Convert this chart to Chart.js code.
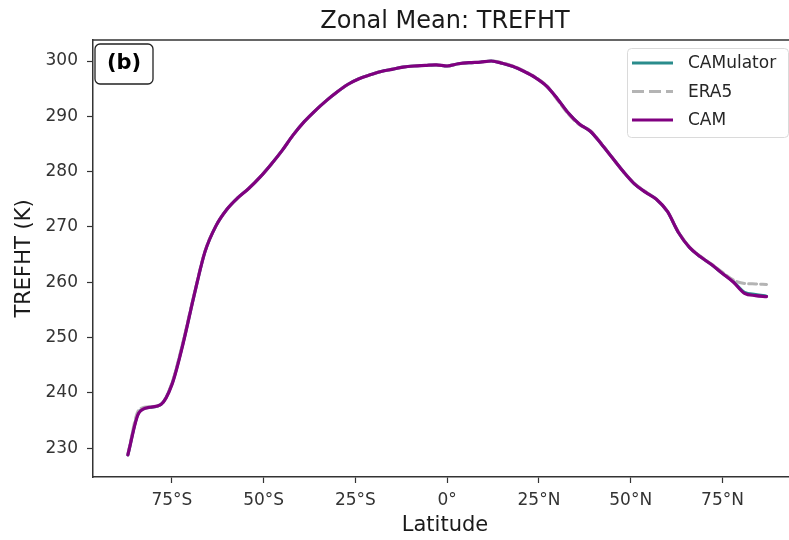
<!DOCTYPE html>
<html>
<head>
<meta charset="utf-8">
<script src="https://cdn.jsdelivr.net/npm/chart.js@4.4.0/dist/chart.umd.min.js"></script>
<style>
  html, body { margin: 0; padding: 0; background: #fff; overflow: hidden; }
  #wrap { width: 800px; height: 540px; }
</style>
</head>
<body>
<div id="wrap"><canvas id="myChart" width="800" height="540"></canvas></div>
<script>
// latitude grid (degrees, south negative)
const latitudes = [-87, -84, -81, -78, -75, -72, -69, -66, -63, -60, -57, -54, -51, -48, -45, -42, -39, -36, -33, -30,
  -27, -24, -21, -18, -15, -12, -9, -6, -3, 0, 3, 6, 9, 12, 15, 18, 21, 24, 27, 30,
  33, 36, 39, 42, 45, 48, 51, 54, 57, 60, 63, 66, 69, 72, 75, 78, 81, 84, 87];

// zonal mean 2m temperature (K)
const camValues = [228.8, 236.4, 237.4, 237.9, 241.5, 248.8, 257.5, 265.5, 270.2, 273.2, 275.3, 277.0, 279.0, 281.3, 283.8, 286.6, 289.0, 291.0, 292.8, 294.4,
  295.8, 296.8, 297.5, 298.1, 298.5, 298.9, 299.1, 299.2, 299.3, 299.1, 299.5, 299.7, 299.8, 300.0, 299.6, 299.0, 298.1, 297.0, 295.5, 293.2,
  290.6, 288.6, 287.3, 285.0, 282.5, 280.0, 277.8, 276.3, 275.0, 272.8, 269.0, 266.3, 264.6, 263.2, 261.6, 260.0, 258.0, 257.6, 257.4];
const era5Values = [229.0, 236.9, 237.5, 237.9, 241.8, 249.2, 257.7, 265.6, 270.2, 273.2, 275.3, 277.0, 279.0, 281.3, 283.8, 286.6, 289.0, 291.0, 292.8, 294.4,
  295.8, 296.8, 297.5, 298.1, 298.5, 298.9, 299.1, 299.2, 299.3, 299.1, 299.5, 299.7, 299.8, 300.0, 299.7, 299.1, 298.2, 297.1, 295.6, 293.0,
  290.4, 288.5, 287.4, 285.1, 282.5, 280.0, 277.9, 276.4, 275.0, 272.8, 269.1, 266.4, 264.7, 263.3, 261.8, 260.4, 259.8, 259.7, 259.6];
const camulatorValues = [228.8, 236.5, 237.4, 237.9, 241.6, 248.9, 257.5, 265.5, 270.2, 273.2, 275.3, 277.0, 279.0, 281.3, 283.8, 286.6, 289.0, 291.0, 292.8, 294.4,
  295.8, 296.8, 297.5, 298.1, 298.5, 298.9, 299.1, 299.2, 299.3, 299.1, 299.5, 299.7, 299.8, 300.0, 299.6, 299.0, 298.1, 297.0, 295.5, 293.2,
  290.6, 288.6, 287.3, 285.0, 282.5, 280.0, 277.8, 276.3, 275.0, 272.8, 269.0, 266.3, 264.6, 263.2, 261.6, 260.1, 258.2, 257.8, 257.5];

const xTickValues = [-75, -50, -25, 0, 25, 50, 75];
const xTickLabels = ['75°S', '50°S', '25°S', '0°', '25°N', '50°N', '75°N'];
const yTickValues = [230, 240, 250, 260, 270, 280, 290, 300];

const seriesNames = ['CAMulator', 'ERA5', 'CAM'];
const seriesColors = ['#2a8c8c', '#b4b4b4', '#800080'];

const FONT = '"DejaVu Sans", sans-serif';
const toPoints = vals => latitudes.map((lat, i) => ({ x: lat, y: vals[i] }));

// title, top spine, panel tag and legend drawn over the plot area
const extras = {
  id: 'extras',
  afterDraw(chart) {
    const { ctx, chartArea } = chart;
    ctx.save();
    // top spine
    ctx.strokeStyle = '#333';
    ctx.lineWidth = 1.5;
    ctx.beginPath();
    ctx.moveTo(chartArea.left, chartArea.top);
    ctx.lineTo(chartArea.right, chartArea.top);
    ctx.stroke();

    // title
    ctx.fillStyle = '#1a1a1a';
    ctx.font = '24px ' + FONT;
    ctx.textAlign = 'center';
    ctx.textBaseline = 'alphabetic';
    ctx.fillText('Zonal Mean: TREFHT', (chartArea.left + chartArea.right) / 2, 28);

    // (b) tag
    ctx.fillStyle = '#fff';
    ctx.strokeStyle = '#222';
    ctx.lineWidth = 1.3;
    ctx.beginPath();
    ctx.roundRect(95, 44, 58, 40, 5);
    ctx.fill();
    ctx.stroke();
    ctx.fillStyle = '#000';
    ctx.font = 'bold 21px ' + FONT;
    ctx.textBaseline = 'middle';
    ctx.fillText('(b)', 124, 64);

    // legend
    ctx.fillStyle = 'rgba(255,255,255,0.8)';
    ctx.strokeStyle = '#dadada';
    ctx.lineWidth = 1;
    ctx.beginPath();
    ctx.roundRect(627.5, 48.5, 161, 89, 4);
    ctx.fill();
    ctx.stroke();
    ctx.font = '17px ' + FONT;
    ctx.textAlign = 'left';
    seriesNames.forEach((name, i) => {
      const y = 63 + i * 28.5;
      ctx.strokeStyle = seriesColors[i];
      ctx.lineWidth = 3;
      ctx.setLineDash(name === 'ERA5' ? [12, 5] : []);
      ctx.beginPath();
      ctx.moveTo(632, y);
      ctx.lineTo(673, y);
      ctx.stroke();
      ctx.setLineDash([]);
      ctx.fillStyle = '#262626';
      ctx.fillText(name, 688, y + 1);
    });
    ctx.restore();
  }
};

const ctx = document.getElementById('myChart').getContext('2d');
const chart = new Chart(ctx, {
  type: 'line',
  data: {
    datasets: [
      {
        label: 'CAMulator',
        data: toPoints(camulatorValues),
        borderColor: seriesColors[0],
        borderWidth: 3,
        order: 3
      },
      {
        label: 'ERA5',
        data: toPoints(era5Values),
        borderColor: seriesColors[1],
        borderWidth: 3,
        borderDash: [8, 4],
        order: 2
      },
      {
        label: 'CAM',
        data: toPoints(camValues),
        borderColor: seriesColors[2],
        borderWidth: 3.2,
        order: 1
      }
    ]
  },
  options: {
    responsive: false,
    animation: false,
    devicePixelRatio: 1,
    layout: { padding: { top: 40, right: 3, left: 0, bottom: 0 } },
    elements: {
      point: { radius: 0 },
      line: { cubicInterpolationMode: 'monotone', fill: false, borderCapStyle: 'round' }
    },
    plugins: {
      legend: { display: false },
      title: { display: false },
      tooltip: { enabled: false }
    },
    scales: {
      x: {
        type: 'linear',
        min: -96.5,
        max: 95.3,
        afterBuildTicks: s => { s.ticks = xTickValues.map(v => ({ value: v })); },
        afterFit: s => { s.height = 63; },
        ticks: {
          callback: v => xTickLabels[xTickValues.indexOf(v)],
          font: { family: FONT, size: 17 },
          color: '#333',
          padding: 7,
          maxRotation: 0,
          autoSkip: false
        },
        grid: { drawOnChartArea: false, drawTicks: true, tickLength: 6, color: '#333', tickWidth: 1.2 },
        border: { display: true, color: '#333', width: 1.5 },
        title: {
          display: true,
          text: 'Latitude',
          font: { family: FONT, size: 21 },
          color: '#1a1a1a',
          padding: { top: 0, bottom: 2 }
        }
      },
      y: {
        type: 'linear',
        min: 224.8,
        max: 303.8,
        afterBuildTicks: s => { s.ticks = yTickValues.map(v => ({ value: v })); },
        afterFit: s => { s.width = 93; },
        ticks: {
          font: { family: FONT, size: 17 },
          color: '#333',
          padding: 9
        },
        grid: { drawOnChartArea: false, drawTicks: true, tickLength: 6, color: '#333', tickWidth: 1.2 },
        border: { display: true, color: '#333', width: 1.5 },
        title: {
          display: true,
          text: 'TREFHT (K)',
          font: { family: FONT, size: 21 },
          color: '#1a1a1a',
          padding: { top: 12, bottom: 0 }
        }
      }
    }
  },
  plugins: [extras]
});
</script>
</body>
</html>
